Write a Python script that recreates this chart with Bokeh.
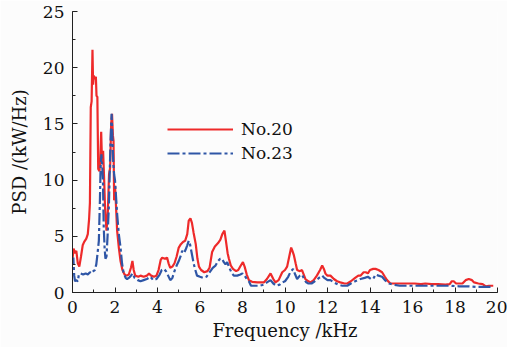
from bokeh.plotting import figure
from bokeh.models import Range1d, Legend, LegendItem, FixedTicker
from bokeh.embed import file_html
from bokeh.resources import INLINE

# No.20 (red, solid)
f20 = [0.0, 0.05, 0.12, 0.18, 0.25, 0.32, 0.4, 0.48, 0.55, 0.65, 0.72, 0.78, 0.82, 0.86, 0.9, 0.94, 0.97,
       1.0, 1.05, 1.1, 1.13, 1.17, 1.21, 1.27, 1.31, 1.35, 1.39, 1.44, 1.49, 1.53, 1.6, 1.66, 1.72, 1.77,
       1.82, 1.86, 1.9, 1.93, 1.96, 2.0, 2.04, 2.1, 2.18, 2.26, 2.35, 2.45, 2.55, 2.65, 2.75, 2.82, 2.88,
       2.95, 3.1, 3.2, 3.35, 3.5, 3.6, 3.7, 3.83, 3.95, 4.05, 4.15, 4.22, 4.35, 4.45, 4.52, 4.6, 4.7, 4.8,
       4.9, 5.0, 5.1, 5.2, 5.3, 5.4, 5.47, 5.55, 5.62, 5.7, 5.8, 5.88, 5.95, 6.05, 6.2, 6.35, 6.45, 6.57,
       6.7, 6.85, 6.96, 7.05, 7.15, 7.22, 7.3, 7.36, 7.45, 7.55, 7.7, 7.8, 7.92, 8.02, 8.1, 8.2, 8.3, 8.45,
       8.7, 9.0, 9.15, 9.32, 9.45, 9.55, 9.7, 9.87, 10.0, 10.1, 10.2, 10.29, 10.35, 10.42, 10.5, 10.57,
       10.7, 10.8, 10.9, 10.96, 11.1, 11.2, 11.35, 11.5, 11.65, 11.75, 11.83, 11.9, 12.0, 12.14, 12.3,
       12.45, 12.6, 12.8, 12.93, 13.1, 13.3, 13.45, 13.55, 13.7, 13.8, 13.9, 14.0, 14.15, 14.26, 14.4,
       14.57, 14.7, 14.8, 14.96, 15.2, 15.5, 15.8, 16.1, 16.4, 16.6, 16.9, 17.2, 17.55, 17.75, 17.85,
       17.94, 18.05, 18.2, 18.35, 18.5, 18.65, 18.8, 18.9, 19.1, 19.3, 19.45, 19.6, 19.8]
psd20 = [3.0, 3.9, 3.5, 3.7, 2.6, 2.3, 3.2, 4.2, 4.5, 4.8, 5.2, 6.5, 8.0, 16.5, 17.0, 21.6, 18.5,
         19.3, 19.0, 19.2, 17.5, 17.4, 11.0, 10.8, 12.0, 14.3, 11.5, 12.6, 10.0, 7.6, 5.5, 7.0, 10.5, 11.1,
         15.0, 15.9, 14.0, 13.5, 8.2, 9.5, 8.0, 5.5, 4.0, 2.8, 2.0, 1.6, 1.5, 1.6, 2.2, 2.8, 2.0,
         1.5, 1.4, 1.5, 1.4, 1.5, 1.7, 1.5, 1.4, 1.5, 2.0, 2.9, 3.1, 3.0, 3.1, 2.6, 2.2, 2.3, 2.6,
         3.2, 4.0, 4.3, 4.5, 4.6, 5.2, 6.4, 6.6, 6.2, 5.3, 4.3, 3.0, 2.3, 2.0, 1.8, 1.9, 2.2, 3.6,
         4.1, 4.4, 4.7, 5.2, 5.5, 4.6, 3.5, 3.0, 2.4, 2.1, 1.9, 2.0, 2.4, 2.7, 2.3, 1.6, 1.1, 0.95,
         0.9, 0.9, 1.2, 1.7, 1.2, 0.9, 1.1, 1.8, 2.0, 2.3, 3.2, 4.0, 3.7, 3.3, 2.6, 2.0,
         1.9, 2.0, 1.5, 1.2, 1.0, 0.9, 1.1, 1.5, 2.0, 2.4, 2.1, 1.7, 1.5, 1.5, 1.2,
         1.0, 0.9, 0.8, 0.8, 1.0, 1.3, 1.5, 1.5, 1.8, 1.8, 1.7, 2.0, 2.1, 2.1, 2.0,
         1.8, 1.4, 1.1, 0.8, 0.8, 0.8, 0.8, 0.8, 0.75, 0.8, 0.75, 0.75, 0.7, 0.75, 1.0,
         1.0, 0.8, 0.8, 0.8, 1.1, 1.2, 1.1, 0.9, 0.8, 0.75, 0.55, 0.6, 0.6]

# No.23 (blue, dash-dot)
f23 = [0.0, 0.04, 0.08, 0.12, 0.18, 0.25, 0.3, 0.38, 0.5, 0.62, 0.72, 0.82, 0.9, 0.98, 1.05, 1.12, 1.18,
       1.24, 1.29, 1.32, 1.36, 1.39, 1.43, 1.47, 1.51, 1.55, 1.6, 1.65, 1.71, 1.75, 1.79, 1.84, 1.88, 1.92,
       1.96, 2.0, 2.05, 2.1, 2.18, 2.26, 2.33, 2.4, 2.5, 2.57, 2.65, 2.75, 2.83, 2.92, 3.07, 3.2, 3.35,
       3.5, 3.67, 3.8, 3.95, 4.1, 4.2, 4.3, 4.4, 4.5, 4.6, 4.7, 4.8, 4.9, 5.0, 5.1, 5.16, 5.25, 5.32, 5.4,
       5.47, 5.53, 5.6, 5.7, 5.78, 5.86, 6.0, 6.15, 6.3, 6.45, 6.6, 6.73, 6.85, 6.95, 7.04, 7.12, 7.2,
       7.28, 7.38, 7.5, 7.6, 7.75, 7.9, 8.0, 8.1, 8.2, 8.3, 8.4, 8.6, 8.8, 9.0, 9.15, 9.32, 9.45, 9.6,
       9.75, 9.87, 10.0, 10.15, 10.25, 10.38, 10.48, 10.57, 10.7, 10.8, 10.9, 11.0, 11.1, 11.25, 11.4,
       11.6, 11.75, 11.85, 12.0, 12.14, 12.3, 12.5, 12.7, 12.93, 13.1, 13.3, 13.55, 13.75, 13.9, 14.05,
       14.15, 14.26, 14.4, 14.57, 14.7, 14.9, 15.1, 15.4, 15.8, 16.2, 16.6, 17.0, 17.4, 17.8, 18.2, 18.6,
       19.0, 19.4, 19.8]
psd23 = [2.6, 3.1, 1.5, 1.0, 1.1, 1.0, 1.6, 1.7, 1.6, 1.7, 1.6, 1.8, 1.7, 1.9, 2.0, 2.5, 3.5,
         4.6, 8.2, 11.0, 12.3, 11.5, 10.2, 5.8, 4.0, 3.0, 3.2, 5.0, 7.6, 10.5, 13.5, 15.9, 13.6, 11.5,
         10.5, 10.0, 8.5, 7.0, 5.2, 4.0, 2.6, 1.8, 1.3, 1.2, 1.3, 1.5, 1.7, 1.3, 1.1, 1.0, 1.1,
         1.2, 1.4, 1.1, 1.2, 1.6, 2.0, 2.1, 1.9, 1.5, 1.1, 1.3, 1.9, 2.4, 2.8, 3.3, 3.7, 3.5, 3.8, 4.2,
         4.6, 4.3, 3.6, 2.6, 2.0, 1.5, 1.4, 1.3, 1.4, 1.8, 2.2, 2.4, 2.8, 3.0, 3.0, 2.7, 2.5,
         2.7, 2.2, 1.7, 1.5, 1.5, 1.6, 1.7, 1.5, 1.2, 1.0, 0.6, 0.6, 0.6, 0.7, 0.9, 1.1, 0.8, 0.6,
         0.7, 0.9, 1.0, 1.4, 1.8, 2.1, 1.6, 1.2, 1.5, 1.6, 1.2, 0.9, 0.8, 0.8, 1.0,
         1.3, 1.5, 1.3, 1.1, 1.1, 0.9, 0.7, 0.6, 0.6, 0.8, 1.0, 1.2, 1.3, 1.4, 1.2,
         1.2, 1.6, 1.5, 1.4, 1.1, 0.8, 0.7, 0.6, 0.6, 0.6, 0.6, 0.6, 0.6, 0.6, 0.55, 0.55,
         0.5, 0.5, 0.5]

series_names = ["No.20", "No.23"]
x_ticks = [0, 2, 4, 6, 8, 10, 12, 14, 16, 18, 20]
y_ticks = [0, 5, 10, 15, 20, 25]

FONT = "DejaVu Serif"
RED = "#ee2a2a"
BLUE = "#2f56a6"
BG = "#fcfcfc"

p = figure(width=507, height=347, output_backend="svg", toolbar_location=None,
           x_range=Range1d(0, 20), y_range=Range1d(0, 25),
           min_border_left=72, min_border_right=10, min_border_top=11, min_border_bottom=55,
           background_fill_color=BG, border_fill_color=BG)
p.outline_line_color = None
p.grid.visible = False

r20 = p.line(f20, psd20, line_color=RED, line_width=2.2)
r23 = p.line(f23, psd23, line_color=BLUE, line_width=2.2, line_dash="12 3 3 3")

for ax in (p.xaxis[0], p.yaxis[0]):
    ax.axis_line_color = "#222222"
    ax.axis_line_width = 1
    ax.major_tick_in = 5
    ax.major_tick_out = 0
    ax.minor_tick_in = 3
    ax.minor_tick_out = 0
    ax.major_tick_line_color = "#222222"
    ax.minor_tick_line_color = "#222222"
    ax.major_label_text_font = FONT
    ax.major_label_text_font_size = "17px"
    ax.major_label_text_color = "#111111"
    ax.axis_label_text_font = FONT
    ax.axis_label_text_font_size = "18px"
    ax.axis_label_text_font_style = "normal"
    ax.axis_label_text_color = "#111111"

p.xaxis.ticker = FixedTicker(ticks=x_ticks, minor_ticks=list(range(0, 21)))
p.yaxis.ticker = FixedTicker(ticks=y_ticks, minor_ticks=[2.5 * i for i in range(11)])
p.xaxis.axis_label = "Frequency /kHz"
p.yaxis.axis_label = "PSD /(kW/Hz)"
p.xaxis.major_label_standoff = 8
p.yaxis.major_label_standoff = 8
p.xaxis.axis_label_standoff = 4
p.yaxis.axis_label_standoff = 10

legend = Legend(items=[LegendItem(label=series_names[0], renderers=[r20]),
                       LegendItem(label=series_names[1], renderers=[r23])],
                location=(90, 124), orientation="vertical",
                glyph_width=66, glyph_height=20, label_height=20, spacing=4,
                label_standoff=8, padding=5, margin=0,
                label_text_font=FONT, label_text_font_size="17px", label_text_color="#111111",
                background_fill_alpha=0, border_line_alpha=0)
p.add_layout(legend, "center")

open("out.html", "w").write(file_html(p, INLINE))
